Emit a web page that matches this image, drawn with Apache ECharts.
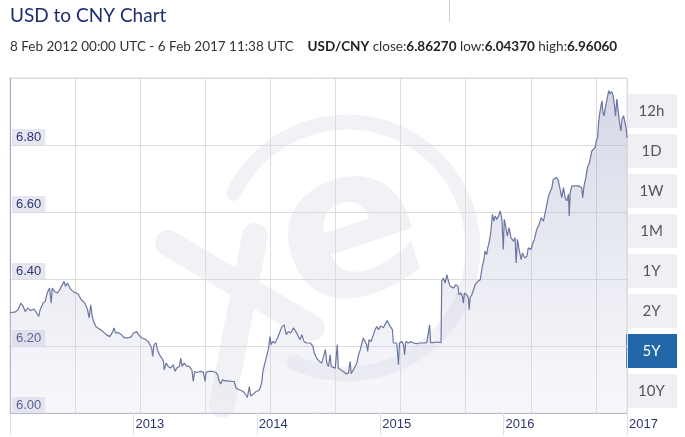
<!DOCTYPE html>
<html>
<head>
<meta charset="utf-8">
<script src="https://cdn.jsdelivr.net/npm/echarts@6/dist/echarts.min.js"></script>
<style>
html,body{margin:0;padding:0;background:#fff;}
#chart{width:685px;height:437px;}
</style>
</head>
<body>
<div id="chart"></div>
<script>
// ---- data (day offset from 8 Feb 2012, USD/CNY rate) ----
const titleText = 'USD to CNY Chart';
const rangeText = '8 Feb 2012 00:00 UTC - 6 Feb 2017 11:38 UTC';
const pairText = 'USD/CNY';
const closeVal = '6.86270';
const lowVal = '6.04370';
const highVal = '6.96060';
const yearLabels = ['2013', '2014', '2015', '2016', '2017'];
const rangeButtons = ['12h', '1D', '1W', '1M', '1Y', '2Y', '5Y', '10Y'];
const selectedRange = '5Y';

const days = [
  0,14,24,32,38,45,53,61,71,78,
  85,89,98,104,110,117,122,125,132,140,
  147,152,160,164,170,177,183,191,201,211,
  221,229,234,239,243,249,255,265,275,285,
  295,302,308,312,320,329,339,349,359,365,
  375,380,390,399,409,414,419,422,426,432,
  436,442,449,454,456,462,468,475,483,488,
  493,501,505,509,515,523,530,538,542,546,
  552,562,572,577,580,590,600,609,614,619,
  623,629,636,646,656,663,669,675,680,690,
  698,702,708,712,720,728,735,740,745,748,
  754,759,764,769,772,777,784,791,797,804,
  811,817,823,830,838,843,848,853,858,863,
  870,878,888,896,900,907,915,922,927,933,
  937,942,947,950,955,962,968,971,978,986,
  994,1001,1006,1009,1016,1021,1026,1031,1036,1041,
  1045,1050,1055,1058,1062,1068,1075,1080,1085,1090,
  1097,1104,1112,1116,1122,1127,1131,1134,1139,1144,
  1149,1152,1159,1164,1167,1171,1178,1186,1193,1203,
  1213,1218,1223,1233,1241,1244,1252,1262,1275,1277,
  1282,1287,1292,1297,1302,1307,1312,1319,1325,1328,
  1334,1338,1341,1344,1351,1356,1358,1361,1366,1371,
  1376,1384,1391,1397,1402,1405,1410,1413,1417,1422,
  1427,1431,1435,1440,1445,1450,1455,1459,1462,1467,
  1471,1476,1482,1489,1494,1497,1501,1506,1512,1516,
  1522,1529,1533,1541,1545,1551,1558,1565,1571,1578,
  1583,1588,1593,1598,1603,1607,1612,1617,1622,1627,
  1632,1637,1642,1647,1652,1654,1657,1662,1667,1672,
  1677,1681,1686,1691,1694,1698,1704,1708,1714,1718,
  1721,1726,1731,1734,1738,1741,1744,1748,1751,1754,
  1757,1763,1767,1771,1775,1779,1783,1787,1791,1795,
  1799,1803,1807,1810,1815,1820,1822,1825
];
const rates = [
  6.300,6.301,6.308,6.328,6.320,6.303,6.313,6.306,6.310,6.300,
  6.288,6.308,6.328,6.333,6.358,6.373,6.328,6.373,6.363,6.358,
  6.368,6.378,6.393,6.378,6.388,6.373,6.366,6.360,6.356,6.338,
  6.328,6.310,6.284,6.323,6.288,6.269,6.257,6.251,6.243,6.234,
  6.228,6.239,6.254,6.239,6.240,6.234,6.224,6.224,6.228,6.239,
  6.243,6.234,6.224,6.221,6.213,6.216,6.194,6.169,6.204,6.209,
  6.189,6.174,6.164,6.154,6.129,6.149,6.139,6.134,6.144,6.124,
  6.134,6.139,6.164,6.139,6.149,6.139,6.139,6.129,6.094,6.124,
  6.121,6.124,6.122,6.094,6.122,6.124,6.124,6.121,6.114,6.094,
  6.087,6.099,6.096,6.096,6.094,6.094,6.074,6.071,6.071,6.064,
  6.054,6.046,6.079,6.051,6.057,6.064,6.067,6.074,6.094,6.124,
  6.149,6.154,6.189,6.228,6.204,6.213,6.209,6.224,6.239,6.257,
  6.263,6.234,6.243,6.239,6.254,6.258,6.239,6.228,6.219,6.234,
  6.213,6.209,6.209,6.199,6.179,6.164,6.154,6.149,6.144,6.189,
  6.149,6.139,6.174,6.139,6.144,6.134,6.204,6.134,6.129,6.124,
  6.117,6.119,6.154,6.117,6.129,6.124,6.149,6.174,6.189,6.209,
  6.224,6.228,6.204,6.184,6.219,6.213,6.234,6.249,6.258,6.249,
  6.260,6.254,6.269,6.276,6.263,6.266,6.249,6.209,6.213,6.209,
  6.144,6.209,6.213,6.204,6.174,6.213,6.209,6.213,6.209,6.207,
  6.209,6.213,6.209,6.210,6.263,6.210,6.210,6.212,6.210,6.393,
  6.403,6.388,6.413,6.393,6.378,6.383,6.373,6.383,6.378,6.353,
  6.358,6.348,6.328,6.358,6.353,6.343,6.308,6.343,6.353,6.368,
  6.383,6.393,6.398,6.438,6.458,6.483,6.473,6.493,6.508,6.538,
  6.593,6.573,6.588,6.578,6.588,6.603,6.578,6.488,6.578,6.553,
  6.528,6.553,6.523,6.513,6.523,6.448,6.518,6.488,6.458,6.478,
  6.463,6.468,6.493,6.488,6.503,6.518,6.548,6.563,6.583,6.573,
  6.598,6.593,6.648,6.653,6.673,6.698,6.693,6.703,6.693,6.668,
  6.643,6.673,6.643,6.633,6.653,6.588,6.658,6.678,6.683,6.678,
  6.673,6.678,6.673,6.673,6.643,6.678,6.707,6.733,6.748,6.767,
  6.782,6.787,6.793,6.812,6.822,6.867,6.892,6.917,6.932,6.897,
  6.887,6.922,6.942,6.962,6.952,6.960,6.952,6.927,6.887,6.937,
  6.902,6.867,6.842,6.877,6.887,6.882,6.852,6.822
];

const seriesData = days.map((d, i) => [d, rates[i]]);

const chart = echarts.init(document.getElementById('chart'), null, {renderer: 'canvas'});

// watermark ("xe" logo, very faint)
const wm = '#f2f2f6';
const watermark = [
  {type: 'arc', z: -1, silent: true,
   shape: {cx: 347, cy: 248, r: 126, startAngle: 3.59, endAngle: 8.29, clockwise: true},
   style: {stroke: wm, lineWidth: 15, fill: null, lineCap: 'round'}},
  {type: 'text', z: -1, silent: true, x: 352, y: 240, rotation: 0.32,
   style: {text: 'e', font: 'bold 210px "DejaVu Sans"', fill: wm, align: 'center', verticalAlign: 'middle'}},
  {type: 'line', z: -1, silent: true,
   shape: {x1: 255, y1: 236, x2: 222, y2: 405},
   style: {stroke: wm, lineWidth: 26, lineCap: 'round'}},
  {type: 'line', z: -1, silent: true,
   shape: {x1: 168, y1: 243, x2: 312, y2: 328},
   style: {stroke: wm, lineWidth: 26, lineCap: 'round'}}
];

const buttons = rangeButtons.map((label, i) => {
  const sel = label === selectedRange;
  return {
    type: 'group', x: 626, y: 94 + 40 * i,
    children: [
      {type: 'rect', shape: {x: 0, y: 0, width: 51, height: 34},
       style: {fill: sel ? '#2166a6' : '#f0f0f4'}},
      {type: 'text', x: 25.5, y: 17,
       style: {text: label, font: '15px Lato', fill: sel ? '#ffffff' : '#555555',
               align: 'center', verticalAlign: 'middle'}}
    ]
  };
});

const header = [
  {type: 'line', shape: {x1: 449.5, y1: 0, x2: 449.5, y2: 22}, style: {stroke: '#d0d0d0', lineWidth: 1}},
  {type: 'text', x: 10, y: 16,
   style: {text: titleText, font: '19px Lato', fill: '#1f2d6e', verticalAlign: 'middle'}},
  {type: 'text', x: 10, y: 47,
   style: {
     text: rangeText + '    {b|' + pairText + '} close:{b|' + closeVal + '} low:{b|' + lowVal + '} high:{b|' + highVal + '}',
     font: '13.5px Lato', fill: '#333333', verticalAlign: 'middle',
     rich: {b: {font: 'bold 13.5px Lato', fill: '#222222'}}
   }}
];

const option = {
  animation: false,
  grid: {left: 10, right: 58, top: 78, bottom: 24, show: true, borderColor: '#dcdcdc', borderWidth: 1},
  xAxis: [
    {
      type: 'value', min: 0, max: 1825, interval: 365,
      axisLine: {show: true, lineStyle: {color: '#b9b9d2'}},
      axisTick: {show: true, length: 22, lineStyle: {color: '#dedee6'}},
      splitLine: {show: false},
      axisLabel: {
        color: '#2e3670', fontFamily: 'Arial', fontSize: 13, align: 'left', margin: 5,
        padding: [0, 0, 0, 2],
        formatter: v => {
          const k = Math.round(v / 365) - 1;
          return (k >= 0 && Math.abs(v - (k + 1) * 365) < 1) ? (yearLabels[k] || '') : '';
        }
      }
    },
    {
      type: 'value', min: 0, max: 9.478, interval: 1, position: 'top',
      axisLine: {show: false}, axisTick: {show: false}, axisLabel: {show: false},
      splitLine: {show: true, lineStyle: {color: '#dcdcdc'}}
    }
  ],
  yAxis: {
    type: 'value', min: 6, max: 7, interval: 0.2,
    axisLine: {show: true, lineStyle: {color: '#a8a8d4'}},
    axisTick: {show: false},
    splitLine: {show: true, lineStyle: {color: '#dcdcdc'}},
    axisLabel: {
      inside: true, margin: 2, showMaxLabel: false,
      color: '#2e3670', fontFamily: 'Arial', fontSize: 13,
      verticalAlign: 'bottom', backgroundColor: '#e6e6f0', padding: [2, 4, 1, 4],
      formatter: v => v.toFixed(2)
    }
  },
  series: [{
    type: 'line', xAxisIndex: 0, data: seriesData, showSymbol: false, symbol: 'none',
    lineStyle: {color: '#6c76a0', width: 1.2},
    areaStyle: {
      origin: 'start',
      color: new echarts.graphic.LinearGradient(0, 0, 0, 1, [
        {offset: 0, color: 'rgba(150,156,192,0.58)'},
        {offset: 1, color: 'rgba(222,224,238,0.35)'}
      ])
    },
    z: 3
  }],
  graphic: [...watermark, ...header, ...buttons]
};
chart.setOption(option);
</script>
</body>
</html>
